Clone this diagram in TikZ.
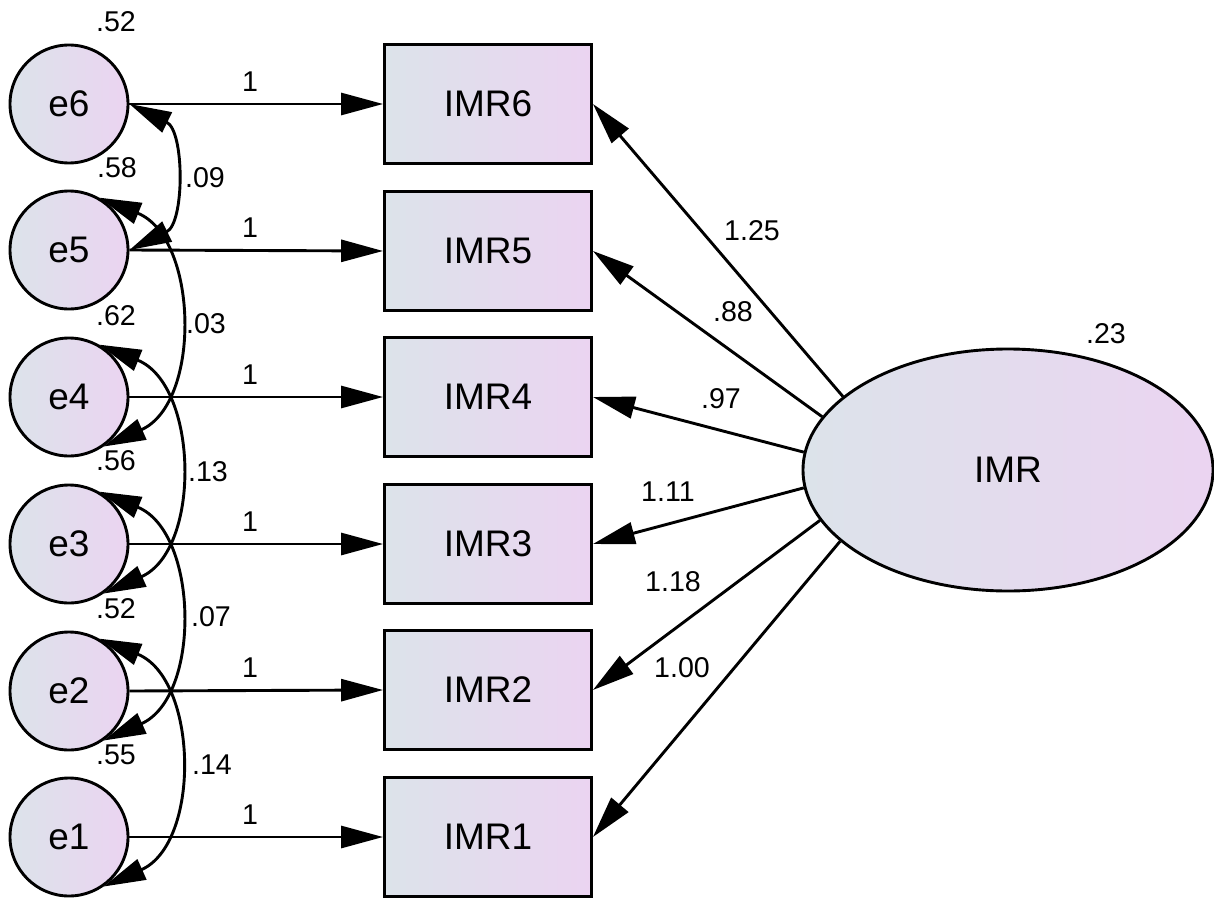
\documentclass[tikz,border=0pt]{standalone}
\usepackage{fontspec}
\setmainfont{Liberation Sans}
\usetikzlibrary{arrows.meta,shapes.geometric}
\definecolor{shadeL}{HTML}{DCE3EA}
\definecolor{shadeR}{HTML}{EBD4F1}
\begin{document}
\begin{tikzpicture}[x=0.5pt,y=0.5pt,
  >={Triangle[length=21pt,width=11pt]},
  conn/.style={line width=1.45pt},
  errnode/.style={circle, draw, line width=1.45pt, minimum size=59pt, inner sep=0pt,
    left color=shadeL, right color=shadeR, font=\fontsize{18.5}{20}\selectfont},
  obsnode/.style={rectangle, draw, line width=1.45pt, minimum width=103.5pt, minimum height=59.5pt,
    inner sep=0pt, left color=shadeL, right color=shadeR, font=\fontsize{18.5}{20}\selectfont},
  latnode/.style={ellipse, draw, line width=1.45pt, minimum width=205pt, minimum height=121pt,
    inner sep=0pt, left color=shadeL, right color=shadeR, font=\fontsize{18.5}{20}\selectfont},
  val/.style={inner sep=0pt, font=\fontsize{14.3}{16}\selectfont},
  cov/.style={conn, <->, bend left=#1}]
\useasboundingbox (0,0) rectangle (1214,-899);

% error terms
\node[errnode] (e6) at (69,-104) {e6};
\node[errnode] (e5) at (69,-250) {e5};
\node[errnode] (e4) at (69,-397) {e4};
\node[errnode] (e3) at (69,-544) {e3};
\node[errnode] (e2) at (69,-691) {e2};
\node[errnode] (e1) at (69,-837) {e1};

% observed indicators
\node[obsnode] (r6) at (488,-104) {IMR6};
\node[obsnode] (r5) at (488,-251) {IMR5};
\node[obsnode] (r4) at (488,-397) {IMR4};
\node[obsnode] (r3) at (488,-544) {IMR3};
\node[obsnode] (r2) at (488,-690) {IMR2};
\node[obsnode] (r1) at (488,-837) {IMR1};

% latent factor
\node[latnode] (imr) at (1008,-470) {IMR};

% error paths with fixed weight 1
\draw[conn,->] (e6.east) -- (r6.west);
\draw[conn,->] (e5.east) -- (r5.west);
\draw[conn,->] (e4.east) -- (r4.west);
\draw[conn,->] (e3.east) -- (r3.west);
\draw[conn,->] (e2.east) -- (r2.west);
\draw[conn,->] (e1.east) -- (r1.west);
\node[val] (w6) at (250,-82) {1};
\node[val] (w5) at (250,-228) {1};
\node[val] (w4) at (250,-375) {1};
\node[val] (w3) at (250,-522) {1};
\node[val] (w2) at (250,-668) {1};
\node[val] (w1) at (250,-815) {1};

% factor loadings
\draw[conn,->] (imr.156.8) -- (r6.east);
\draw[conn,->] (imr.164.9) -- (r5.east);
\draw[conn,->] (imr.175) -- (r4.east);
\draw[conn,->] (imr.185.6) -- (r3.east);
\draw[conn,->] (imr.195.3) -- (r2.east);
\draw[conn,->] (imr.203.2) -- (r1.east);
\node[val] (k6) at (752,-231) {1.25};
\node[val] (k5) at (733,-312) {.88};
\node[val] (k4) at (721,-399) {.97};
\node[val] (k3) at (668,-492) {1.11};
\node[val] (k2) at (673,-582) {1.18};
\node[val] (k1) at (682,-668) {1.00};

% error covariances
\draw[cov=64, looseness=1.08] (e6.east) to (e5.east);
\draw[cov=67, looseness=1.1] (e5.60) to (e4.-55);
\draw[cov=67, looseness=1.1] (e4.60) to (e3.-55);
\draw[cov=67, looseness=1.1] (e3.60) to (e2.-55);
\draw[cov=67, looseness=1.1] (e2.60) to (e1.-55);
\node[val] (c65) at (205,-178) {.09};
\node[val] (c54) at (206,-324) {.03};
\node[val] (c43) at (208,-472) {.13};
\node[val] (c32) at (211,-617) {.07};
\node[val] (c21) at (212,-765) {.14};

% variances
\node[val] (v6) at (116,-22) {.52};
\node[val] (v5) at (117,-168) {.58};
\node[val] (v4) at (116,-316) {.62};
\node[val] (v3) at (116,-461) {.56};
\node[val] (v2) at (116,-609) {.52};
\node[val] (v1) at (116,-755) {.55};
\node[val] (vf) at (1106,-334) {.23};
\end{tikzpicture}
\end{document}
